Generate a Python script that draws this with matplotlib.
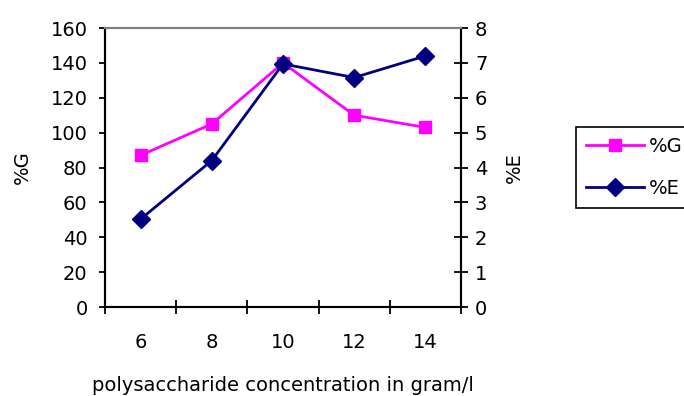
import matplotlib
matplotlib.use('Agg')
import matplotlib.pyplot as plt
import numpy as np

plt.rcParams['font.family'] = ['DejaVu Sans']

conc = ['6', '8', '10', '12', '14']
pct_g = [87, 105, 140, 110, 103]
pct_e = [2.52, 4.2, 6.97, 6.58, 7.2]

MAGENTA = '#ff00ff'
NAVY = '#000080'
FS = 14

fig = plt.figure(figsize=(6.84, 3.96), dpi=100)
ax = fig.add_axes([0.1535, 0.2247, 0.5205, 0.7045])
ax2 = ax.twinx()

x = np.arange(len(conc)) + 0.5
lg, = ax.plot(x, pct_g, color=MAGENTA, lw=2, marker='s', markersize=9,
              label='%G', zorder=3)
le, = ax2.plot(x, pct_e, color=NAVY, lw=2, marker='D', markersize=9,
               label='%E', zorder=3)

ax.set_xlim(0, len(conc))
ax.set_ylim(0, 160)
ax2.set_ylim(0, 8)
ax.set_yticks(np.arange(0, 161, 20))
ax2.set_yticks(np.arange(0, 9, 1))
ax.set_xticks(np.arange(len(conc) + 1))
ax.set_xticklabels([])
ax.set_xticks(x, minor=True)
ax.set_xticklabels(conc, minor=True)
ax.tick_params(axis='x', which='major', direction='inout', length=9.5, width=1.3)
ax.tick_params(axis='x', which='minor', length=0, pad=19, labelsize=FS)
ax.tick_params(axis='y', direction='out', length=4.5, width=1.3, labelsize=FS, pad=8)
ax2.tick_params(axis='y', direction='inout', length=10, width=1.3, labelsize=FS, pad=5)

for a in (ax, ax2):
    a.spines['top'].set_color('#808080')
    a.spines['top'].set_linewidth(1.5)
    for s in ('left', 'right', 'bottom'):
        a.spines[s].set_linewidth(1.5)
        a.spines[s].set_color('black')

ax.set_ylabel('%G', fontsize=FS)
ax2.set_ylabel('%E', fontsize=FS)
ax.set_xlabel('polysaccharide concentration in gram/l', fontsize=FS)
ax.yaxis.set_label_coords(-0.233, 0.5)
ax2.yaxis.set_label_coords(1.149, 0.5)
ax.xaxis.set_label_coords(0.5, -0.283)
ax.yaxis.label.set_va('center')
ax2.yaxis.label.set_va('center')
ax.xaxis.label.set_va('center')

leg = fig.legend(handles=[lg, le], loc='upper left', bbox_to_anchor=(0.842, 0.679),
                 fontsize=FS, frameon=True, fancybox=False, edgecolor='black',
                 framealpha=1, handlelength=3.0, handletextpad=0.26,
                 labelspacing=1.2, borderpad=0.5, borderaxespad=0)
leg.get_frame().set_linewidth(1.2)

fig.savefig('out.png', dpi=100)
